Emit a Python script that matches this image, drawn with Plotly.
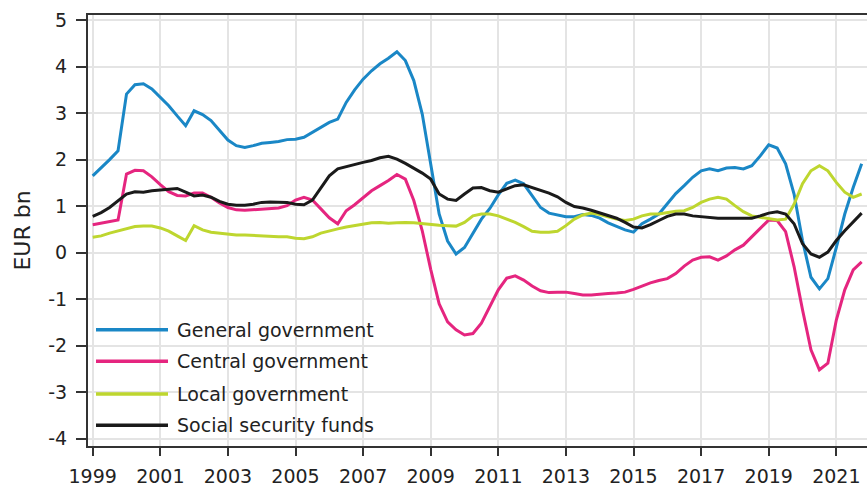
import plotly.graph_objects as go

# Quarterly data 1999Q1 .. 2021Q4 (EUR bn)
years = list(range(1999, 2022))
quarters = [f"{y}Q{q}" for y in years for q in range(1, 5)]

general = [1.65, 1.82, 2.00, 2.19, 3.41, 3.61, 3.63, 3.52, 3.34, 3.16, 2.94, 2.73,
           3.05, 2.97, 2.84, 2.62, 2.42, 2.30, 2.26, 2.30, 2.35, 2.37, 2.39, 2.43,
           2.44, 2.48, 2.59, 2.69, 2.80, 2.87, 3.23, 3.50, 3.73, 3.91, 4.06, 4.18,
           4.32, 4.13, 3.70, 2.98, 1.91, 0.83, 0.25, -0.03, 0.11, 0.43, 0.72, 0.95,
           1.24, 1.49, 1.56, 1.48, 1.22, 0.97, 0.85, 0.81, 0.77, 0.77, 0.82, 0.80,
           0.74, 0.64, 0.56, 0.49, 0.44, 0.62, 0.72, 0.83, 1.05, 1.27, 1.44, 1.62,
           1.76, 1.80, 1.76, 1.82, 1.83, 1.80, 1.87, 2.08, 2.32, 2.25, 1.91, 1.26,
           0.26, -0.53, -0.78, -0.56, 0.11, 0.83, 1.40, 1.91]

central = [0.60, 0.63, 0.67, 0.70, 1.69, 1.77, 1.76, 1.63, 1.46, 1.31, 1.23, 1.22,
           1.28, 1.28, 1.19, 1.07, 0.97, 0.92, 0.91, 0.92, 0.94, 0.95, 0.96, 1.01,
           1.13, 1.19, 1.13, 0.94, 0.75, 0.62, 0.90, 1.03, 1.17, 1.33, 1.44, 1.55,
           1.68, 1.58, 1.12, 0.47, -0.36, -1.10, -1.49, -1.66, -1.77, -1.74, -1.52, -1.16,
           -0.80, -0.55, -0.50, -0.59, -0.72, -0.82, -0.86, -0.85, -0.85, -0.88, -0.91, -0.91,
           -0.89, -0.88, -0.87, -0.85, -0.79, -0.72, -0.65, -0.60, -0.56, -0.45, -0.29, -0.16,
           -0.10, -0.09, -0.16, -0.07, 0.06, 0.16, 0.33, 0.52, 0.70, 0.69, 0.45, -0.30,
           -1.23, -2.09, -2.52, -2.38, -1.45, -0.80, -0.37, -0.20]

local = [0.33, 0.36, 0.42, 0.47, 0.52, 0.56, 0.57, 0.57, 0.53, 0.46, 0.36, 0.26,
         0.58, 0.49, 0.44, 0.42, 0.40, 0.38, 0.38, 0.37, 0.35, 0.35, 0.34, 0.34,
         0.31, 0.30, 0.34, 0.42, 0.47, 0.51, 0.55, 0.58, 0.62, 0.64, 0.65, 0.63,
         0.64, 0.65, 0.64, 0.62, 0.60, 0.59, 0.58, 0.57, 0.65, 0.79, 0.83, 0.83,
         0.79, 0.72, 0.65, 0.56, 0.46, 0.44, 0.44, 0.46, 0.58, 0.72, 0.81, 0.85,
         0.82, 0.77, 0.72, 0.69, 0.72, 0.79, 0.83, 0.83, 0.86, 0.89, 0.90, 0.97,
         1.08, 1.15, 1.19, 1.15, 1.01, 0.88, 0.79, 0.76, 0.74, 0.70, 0.72, 1.04,
         1.48, 1.76, 1.87, 1.76, 1.51, 1.30, 1.19, 1.26]

social = [0.78, 0.86, 0.97, 1.12, 1.26, 1.31, 1.30, 1.33, 1.35, 1.37, 1.38, 1.30,
          1.22, 1.24, 1.19, 1.10, 1.04, 1.02, 1.02, 1.04, 1.08, 1.09, 1.09, 1.08,
          1.04, 1.03, 1.13, 1.40, 1.65, 1.80, 1.85, 1.89, 1.94, 1.98, 2.04, 2.07,
          2.01, 1.92, 1.82, 1.71, 1.58, 1.26, 1.15, 1.12, 1.26, 1.39, 1.40, 1.33,
          1.30, 1.37, 1.44, 1.46, 1.40, 1.33, 1.28, 1.20, 1.08, 0.99, 0.96, 0.91,
          0.85, 0.79, 0.74, 0.65, 0.55, 0.53, 0.60, 0.69, 0.78, 0.83, 0.83, 0.79,
          0.77, 0.76, 0.74, 0.74, 0.74, 0.74, 0.74, 0.79, 0.85, 0.88, 0.83, 0.62,
          0.19, -0.03, -0.10, 0.01, 0.26, 0.47, 0.65, 0.85]

series_names = ["General government", "Central government",
                "Local government", "Social security funds"]
series_values = [general, central, local, social]
colors = ["#1a87c6", "#e5257f", "#bed62f", "#1a1a1a"]

tick_years = list(range(1999, 2022, 2))
tick_labels = [str(y) for y in tick_years]
y_ticks = list(range(-4, 6))

# quarter label -> decimal year position (quarter start)
x = [int(q[:4]) + (int(q[5]) - 1) / 4 for q in quarters]

FONT = "DejaVu Sans"
W, H = 867, 490
L, R, T, B = 88, 0, 15, 44
pw, ph = W - L - R, H - T - B

fig = go.Figure()
for name, vals, c in zip(series_names, series_values, colors):
    fig.add_trace(go.Scatter(x=x, y=vals, mode="lines", name=name,
                             line=dict(color=c, width=3), showlegend=False))

def px_x(p):
    return (p - L) / pw

def px_y(p):
    return (H - B - p) / ph

shapes = [dict(type="rect", xref="paper", yref="paper",
               x0=px_x(89), x1=px_x(375), y0=px_y(444), y1=px_y(310),
               fillcolor="white", line=dict(width=0), layer="between")]
annotations = []
leg_y = [329.7, 361.3, 394.0, 425.3]
for name, c, yy in zip(series_names, colors, leg_y):
    shapes.append(dict(type="line", xref="paper", yref="paper",
                       x0=px_x(96), x1=px_x(168), y0=px_y(yy), y1=px_y(yy),
                       line=dict(color=c, width=3.5), layer="above"))
    annotations.append(dict(xref="paper", yref="paper", x=px_x(175), y=px_y(yy),
                            text=name, showarrow=False, xanchor="left", yanchor="middle",
                            font=dict(family=FONT, size=19, color="#222")))

fig.update_layout(
    width=W, height=H,
    margin=dict(l=L, r=R, t=T, b=B),
    paper_bgcolor="white", plot_bgcolor="white",
    font=dict(family=FONT, size=19, color="#222"),
    shapes=shapes, annotations=annotations,
    showlegend=False,
)
fig.update_xaxes(range=[1998.861, 2021.908], tickvals=tick_years, ticktext=tick_labels,
                 showgrid=True, gridcolor="#e4e4e4", gridwidth=1.5, zeroline=False,
                 showline=True, linecolor="#333", linewidth=2, mirror=True,
                 ticks="outside", ticklen=8, tickwidth=1.5, tickcolor="#333",
                 ticklabelstandoff=4,
                 tickfont=dict(family=FONT, size=19, color="#222"))
fig.update_yaxes(range=[-4.159, 5.110], tickvals=y_ticks,
                 ticktext=[str(v) for v in y_ticks],
                 showgrid=True, gridcolor="#e4e4e4", gridwidth=1.5, zeroline=False,
                 showline=True, linecolor="#333", linewidth=2,
                 ticks="outside", ticklen=10, tickwidth=1.5, tickcolor="#333",
                 ticklabelstandoff=5,
                 tickfont=dict(family=FONT, size=19, color="#222"),
                 title=dict(text="EUR bn", standoff=12,
                            font=dict(family=FONT, size=22, color="#222")))

fig.write_html("out.html", config={"displayModeBar": False},
               post_script="document.body.style.margin='0px';")
